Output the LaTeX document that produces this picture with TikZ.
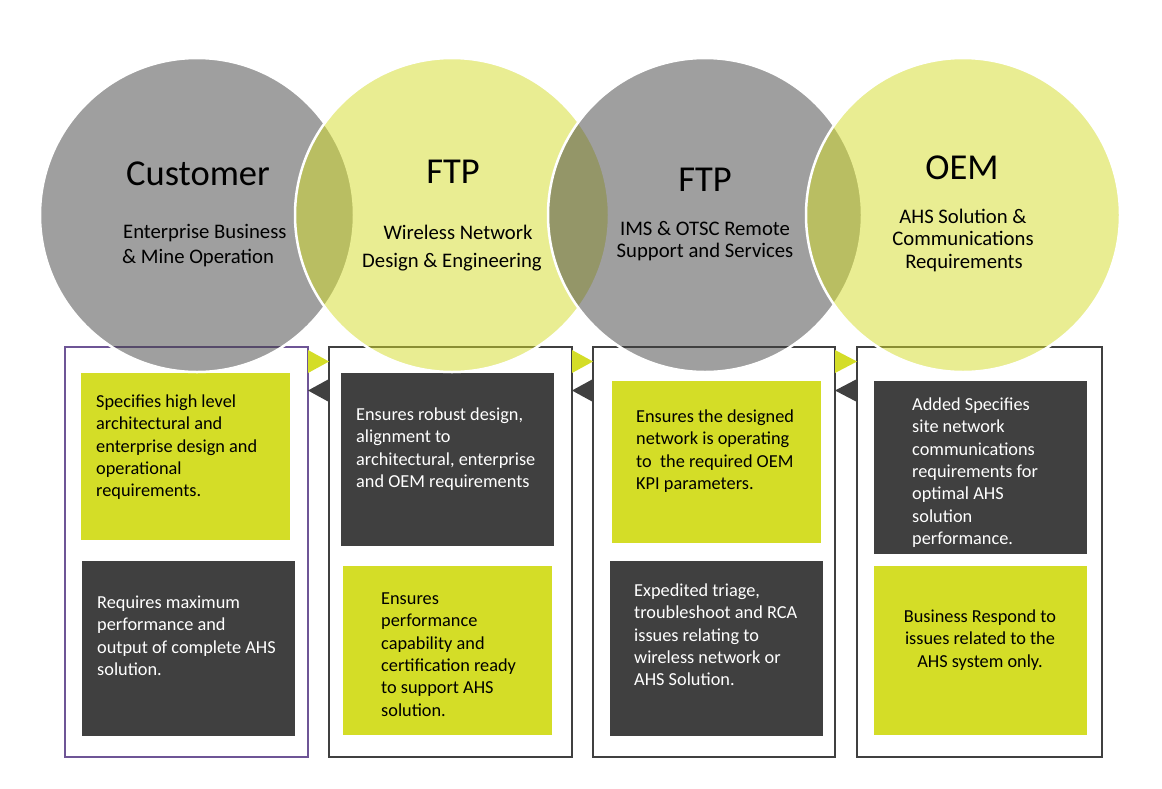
\documentclass[tikz,border=0pt]{standalone}
\usepackage{fontspec}
\setmainfont{Carlito}
\usetikzlibrary{calc}
\definecolor{ftpgreen}{HTML}{D4DD27}
\definecolor{ftpdark}{HTML}{404040}
\definecolor{framegray}{HTML}{404040}
\definecolor{framepurple}{HTML}{6E5596}
\newcommand{\fl}{\rule{0pt}{14pt}}
\begin{document}
\begin{tikzpicture}[x=1pt,y=-1pt,
  frame/.style={draw=framegray, line width=1.3pt, fill=white, anchor=north west, inner sep=0pt, outer sep=0pt},
  gbox/.style={fill=ftpgreen, anchor=north west, inner sep=0pt, outer sep=0pt},
  dbox/.style={fill=ftpdark, anchor=north west, inner sep=0pt, outer sep=0pt},
  body/.style={font=\fontsize{18.3}{22.4}\selectfont, inner sep=0pt, anchor=north west, align=left},
  gcirc/.style={circle, minimum size=314pt, inner sep=0pt, fill=ftpdark, fill opacity=0.5, draw=white, draw opacity=1, line width=2.5pt},
  ycirc/.style={circle, minimum size=314pt, inner sep=0pt, fill=ftpgreen, fill opacity=0.5, draw=white, draw opacity=1, line width=2.5pt},
  head/.style={font=\fontsize{36.5}{43}\selectfont, inner sep=0pt, anchor=base},
  sub/.style={font=\fontsize{20.7}{24.4}\selectfont, inner sep=0pt, anchor=base}
]
\useasboundingbox (0,0) rectangle (1162,788);
\fill[white] (0,0) rectangle (1162,788);

% frames
\node[frame, draw=framepurple, minimum width=243pt, minimum height=410pt] (f1) at (65,347) {};
\node[frame, minimum width=243pt, minimum height=410pt] (f2) at (329,347) {};
\node[frame, minimum width=242pt, minimum height=410pt] (f3) at (593,347) {};
\node[frame, minimum width=245pt, minimum height=410pt] (f4) at (857,347) {};

% inner boxes
\node[gbox, minimum width=209pt, minimum height=167pt] (b1a) at (81,373) {};
\node[dbox, minimum width=213pt, minimum height=175pt] (b1b) at (82,561) {};
\node[dbox, minimum width=213pt, minimum height=173pt] (b2a) at (341,373) {};
\node[gbox, minimum width=209pt, minimum height=169pt] (b2b) at (343,566) {};
\node[gbox, minimum width=209pt, minimum height=162pt] (b3a) at (612,381) {};
\node[dbox, minimum width=213pt, minimum height=175pt] (b3b) at (610,561) {};
\node[dbox, minimum width=213pt, minimum height=173pt] (b4a) at (874,381) {};
\node[gbox, minimum width=213pt, minimum height=169pt] (b4b) at (874,566) {};

% triangles between frames
\foreach \l/\r in {f1/f2, f2/f3, f3/f4}{
  \fill[ftpgreen] ($(\l.north east)+(0,3)$) -- ++(0,23) -- ($(\r.north west)+(0,14.5)$) -- cycle;
  \fill[ftpdark] ($(\r.north west)+(0,32)$) -- ++(0,23) -- ($(\l.north east)+(0,43.5)$) -- cycle;
}

% box texts
\node[body, text=black] (t1a) at (96,393) {\fl Specifies high level\\architectural and\\enterprise design and\\operational\\requirements.};
\node[body, text=white] (t1b) at (97,594) {\fl Requires maximum\\performance and\\output of complete AHS\\solution.};
\node[body, text=white] (t2a) at (356,406) {\fl Ensures robust design,\\alignment to\\architectural, enterprise\\and OEM requirements};
\node[body, text=black] (t2b) at (381,590) {\fl Ensures\\performance\\capability and\\certification ready\\to support AHS\\solution.};
\node[body, text=black] (t3a) at (636,408) {\fl Ensures the designed\\network is operating\\to\ \ the required OEM\\KPI parameters.};
\node[body, text=white] (t3b) at (634,582) {\fl Expedited triage,\\troubleshoot and RCA\\issues relating to\\wireless network or\\AHS Solution.};
\node[body, text=white] (t4a) at (912,396) {\fl Added Specifies\\site network\\communications\\requirements for\\optimal AHS\\solution\\performance.};
\node[body, text=black, anchor=north, align=center] (t4b) at (980,608) {\fl Business Respond to\\issues related to the\\AHS system only.};

% circles
\node[gcirc] (c1) at (197,215) {};
\node[ycirc] (c2) at (452,215) {};
\node[gcirc] (c3) at (705,215) {};
\node[ycirc] (c4) at (963,215) {};

% circle texts
\node[head] (h1) at (198,185) {Customer};
\node[sub, anchor=base west] (s1a) at (123,238) {Enterprise Business};
\node[sub, anchor=base west] (s1b) at (122,263) {\& Mine Operation};

\node[head] (h2) at (453,183) {FTP};
\node[sub] (s2a) at (458,239) {Wireless Network};
\node[sub] (s2b) at (452,267) {Design \& Engineering};

\node[head] (h3) at (705,191) {FTP};
\node[sub] (s3a) at (705,235) {IMS \& OTSC Remote};
\node[sub] (s3b) at (705,257) {Support and Services};

\node[head] (h4) at (962,179) {OEM};
\node[sub] (s4a) at (963,223) {AHS Solution \&};
\node[sub] (s4b) at (963,245) {Communications};
\node[sub] (s4c) at (964,268) {Requirements};
\end{tikzpicture}
\end{document}
